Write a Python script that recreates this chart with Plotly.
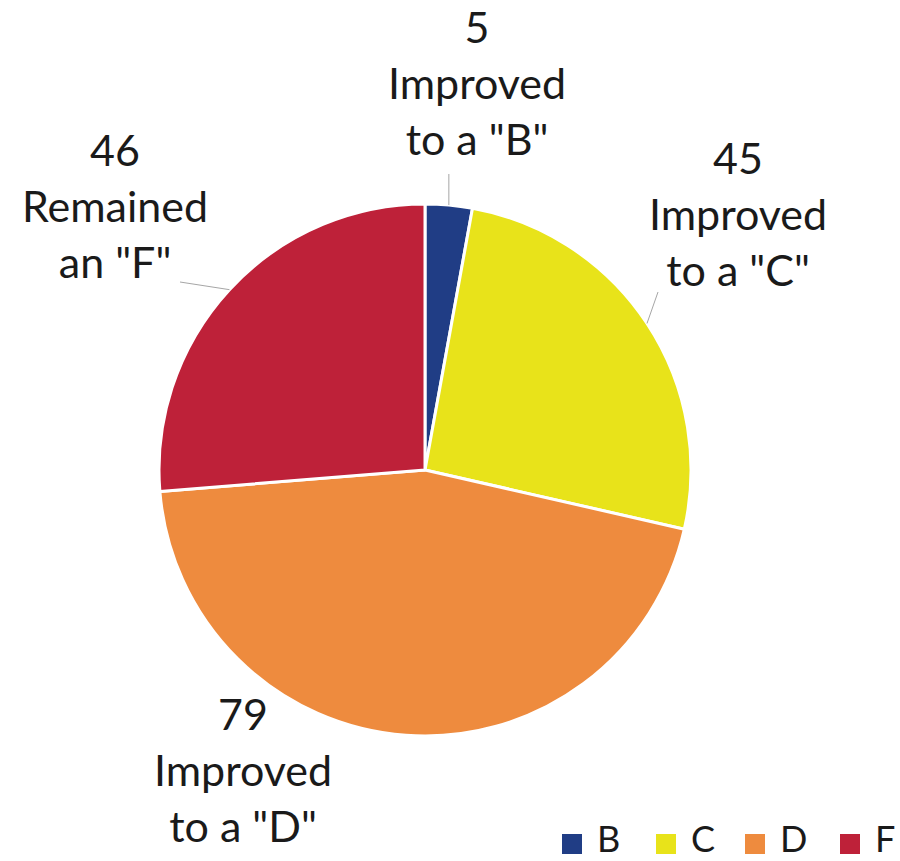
import math
import plotly.graph_objects as go

# ---- data ----
categories = ["B", "C", "D", "F"]
values = [5, 45, 79, 46]
descriptions = ['Improved<br>to a "B"', 'Improved<br>to a "C"', 'Improved<br>to a "D"', 'Remained<br>an "F"']
colors = ["#203D85", "#E8E31A", "#EE8B3E", "#BE2139"]

# ---- layout config (pixels) ----
W, H = 900, 861
CX, CY, R = 425, 470, 266
label_pos = {"B": (477, 82), "C": (738, 214), "D": (243, 769), "F": (115, 205)}
leader_end = {"B": (None, 174), "C": (658, 292), "F": (180, 282)}
FONT = "Lato, Carlito, 'Open Sans', sans-serif"


def px(x, y):
    return x / W, 1 - y / H


fig = go.Figure(go.Pie(
    labels=categories, values=values, sort=False, direction="clockwise", rotation=0,
    marker=dict(colors=colors, line=dict(color="white", width=3)),
    textinfo="none", hoverinfo="label+value", showlegend=False,
    domain=dict(x=[(CX - R) / W, (CX + R) / W], y=[(H - CY - R) / H, (H - CY + R) / H]),
))

total = sum(values)
cum = 0
annotations = []
shapes = []
for cat, v, d in zip(categories, values, descriptions):
    mid = (cum + v / 2) / total * 2 * math.pi
    cum += v
    lx, ly = label_pos[cat]
    ax, ay = px(lx, ly)
    annotations.append(dict(
        x=ax, y=ay, xref="paper", yref="paper", showarrow=False,
        text=f"{v}<br>{d}", align="center", xanchor="center", yanchor="middle",
        font=dict(family=FONT, size=43, color="#1a1a1a"),
    ))
    if cat in leader_end:
        sx = CX + R * math.sin(mid)
        sy = CY - R * math.cos(mid)
        ex, ey = leader_end[cat]
        if ex is None:
            ex = sx
        x0, y0 = px(sx, sy)
        x1, y1 = px(ex, ey)
        shapes.append(dict(type="line", xref="paper", yref="paper", x0=x0, y0=y0, x1=x1, y1=y1,
                           line=dict(color="#A6A6A6", width=1)))

# ---- manual legend ----
leg_x = [562, 656, 745, 840]
SQ = 20
LEG_SQ_Y = 844
LEG_TXT_Y = 838
for cat, col, lx in zip(categories, colors, leg_x):
    x0, y0 = px(lx, LEG_SQ_Y + SQ / 2)
    x1, y1 = px(lx + SQ, LEG_SQ_Y - SQ / 2)
    shapes.append(dict(type="rect", xref="paper", yref="paper", x0=x0, y0=y0, x1=x1, y1=y1,
                       fillcolor=col, line=dict(width=0)))
    tx, ty = px(lx + SQ + 14, LEG_TXT_Y)
    annotations.append(dict(x=tx, y=ty, xref="paper", yref="paper", showarrow=False,
                            text=cat, xanchor="left", yanchor="middle", borderpad=0,
                            font=dict(family=FONT, size=36, color="#1a1a1a")))

fig.update_layout(
    width=W, height=H, margin=dict(l=0, r=0, t=0, b=0),
    paper_bgcolor="white", plot_bgcolor="white",
    annotations=annotations, shapes=shapes, showlegend=False,
)
fig.write_html("out.html")
